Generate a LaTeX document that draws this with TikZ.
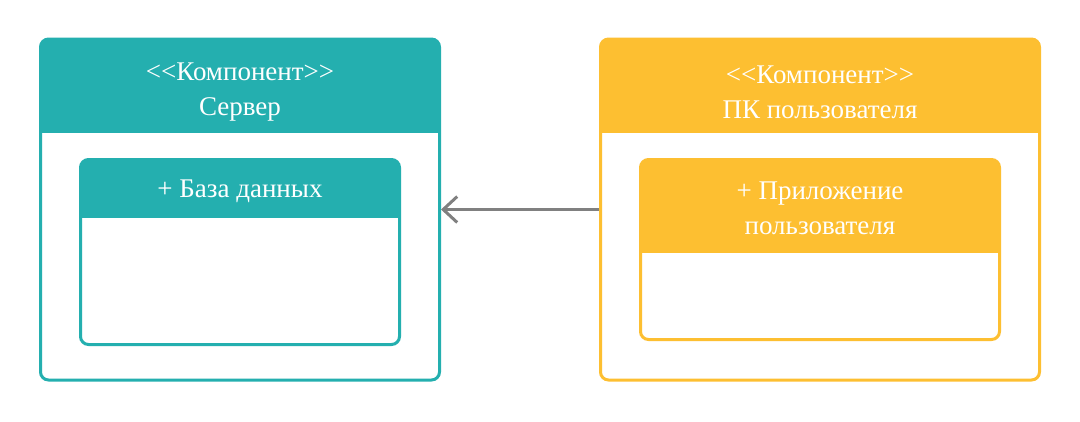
\documentclass[tikz,border=0pt]{standalone}
\usepackage{fontspec}
\setmainfont{Liberation Serif}
\usetikzlibrary{arrows.meta}
\definecolor{srvcolor}{HTML}{24AFAF}
\definecolor{pccolor}{HTML}{FDBF31}
\definecolor{linkgray}{HTML}{808080}
\begin{document}
\begin{tikzpicture}[x=1pt,y=-1pt,
	comp box/.style={draw=#1,line width=3pt,rounded corners=8pt,fill=white},
	head/.style 2 args={path picture={\fill[#1,sharp corners] (path picture bounding box.north west) rectangle ([yshift=-#2]path picture bounding box.north east);}},
	title/.style={text=white,align=center,font=\rmfamily\fontsize{27}{35}\selectfont},
	link/.style={draw=linkgray,line width=3pt,-{Straight Barb[length=14pt,width=26pt,line width=3pt]}}]
	
	\useasboundingbox (0,0) rectangle (1080,421);
	
	% server
	\node[comp box=srvcolor,head={srvcolor}{93.5pt},minimum width=399pt,minimum height=341pt] (server) at (240,209.5) {};
	\node[title] (server title) at ([yshift=-55pt]server.north) {<{}<Компонент>{}>\\Сервер};
	\node[comp box=srvcolor,head={srvcolor}{58.5pt},minimum width=319pt,minimum height=185pt] (db) at (240,252) {};
	\node[title] (db title) at ([yshift=-33pt]db.north) {+ База данных};
	
	% user pc
	\node[comp box=pccolor,head={pccolor}{93.5pt},minimum width=439pt,minimum height=341pt] (pc) at (820,209.5) {};
	\node[title] (pc title) at ([yshift=-55pt]pc.north) {<{}<Компонент>{}>\\ПК пользователя};
	\node[comp box=pccolor,head={pccolor}{93.5pt},minimum width=359pt,minimum height=180pt] (app) at (820,249.5) {};
	\node[title] (app title) at ([yshift=-50pt]app.north) {+ Приложение\\пользователя};
	
	\draw[link] (pc.west) -- (server.east);
	
\end{tikzpicture}
\end{document}
